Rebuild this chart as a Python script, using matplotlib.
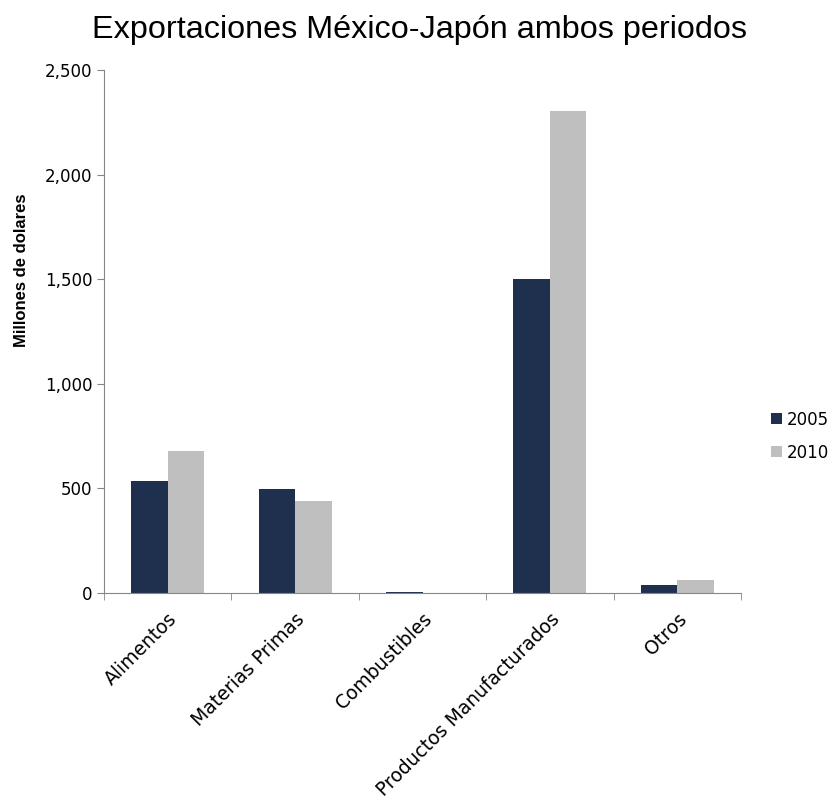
import numpy as np
import matplotlib.pyplot as plt
from matplotlib.ticker import FuncFormatter

# %% Data
categorias = ['Alimentos', 'Materias Primas', 'Combustibles',
              'Productos Manufacturados', 'Otros']
exp_2005 = [535, 497, 5, 1501, 38]
exp_2010 = [679, 440, 0, 2304, 62]

# %% Plot
plt.rcParams['font.family'] = ['DejaVu Sans']

fig = plt.figure(figsize=(8.34, 8.02), dpi=100)
ax = fig.add_axes([0.1247, 0.2606, 0.7638, 0.6521])

x = np.arange(len(categorias))
w = 0.287
ax.bar(x - w/2, exp_2005, w, color='#1f304f', label='2005')
ax.bar(x + w/2, exp_2010, w, color='#bfbfbf', label='2010')

ax.set_xlim(-0.5, len(categorias) - 0.5)
ax.set_ylim(0, 2500)
ax.set_yticks(np.arange(0, 2501, 500))
ax.yaxis.set_major_formatter(FuncFormatter(lambda v, p: '{:,.0f}'.format(v)))

ax.set_xticks(x)
ax.set_xticklabels(categorias, rotation=45, ha='right', rotation_mode='anchor',
                   fontsize=13.5)
ax.set_xticks(np.arange(-0.5, len(categorias)), minor=True)
ax.tick_params(axis='x', which='major', length=0, pad=12)
ax.tick_params(axis='x', which='minor', length=5, color='#868686')
ax.tick_params(axis='y', length=5, color='#868686', labelsize=12)

for s in ['top', 'right']:
    ax.spines[s].set_visible(False)
for s in ['left', 'bottom']:
    ax.spines[s].set_color('#868686')

ax.set_ylabel('Millones de dolares', fontsize=12, fontweight='bold',
              family='Liberation Sans')
ax.yaxis.set_label_coords(-0.117, 0.618)
fig.text(0.503, 0.962, 'Exportaciones México-Japón ambos periodos',
         ha='center', va='center', fontsize=23.3, family='Liberation Sans')

ax.legend(loc='center left', bbox_to_anchor=(1.024, 0.30), frameon=False,
          fontsize=12, handlelength=0.65, handleheight=0.65, handletextpad=0.3,
          labelspacing=0.9)

plt.savefig('out.png')
